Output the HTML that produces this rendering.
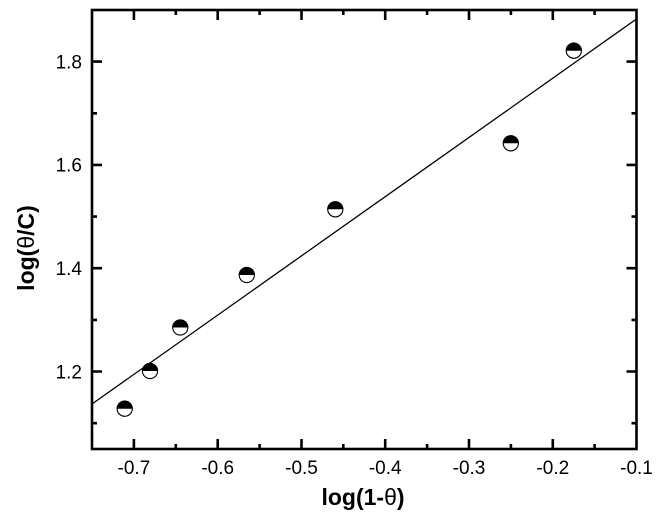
<!DOCTYPE html>
<html>
<head>
<meta charset="utf-8">
<style>
html,body{margin:0;padding:0;background:#fff;}
svg{display:block;}
text{font-family:"Liberation Sans",Arial,sans-serif;fill:#000;}
</style>
</head>
<body>
<svg width="658" height="528" viewBox="0 0 658 528" xmlns="http://www.w3.org/2000/svg">
<rect width="658" height="528" fill="#fff"/>
<!-- fit line -->
<line x1="92" y1="404" x2="636.5" y2="19" stroke="#000" stroke-width="1.3"/>
<!-- ticks -->
<g stroke="#000" stroke-width="2.6" fill="none">
  <path d="M133.9 449 v-10 M217.7 449 v-10 M301.5 449 v-10 M385.2 449 v-10 M469 449 v-10 M552.8 449 v-10"/>
  <path d="M175.8 449 v-5 M259.6 449 v-5 M343.3 449 v-5 M427.1 449 v-5 M510.9 449 v-5 M594.6 449 v-5"/>
  <path d="M133.9 10 v10 M217.7 10 v10 M301.5 10 v10 M385.2 10 v10 M469 10 v10 M552.8 10 v10"/>
  <path d="M175.8 10 v5 M259.6 10 v5 M343.3 10 v5 M427.1 10 v5 M510.9 10 v5 M594.6 10 v5"/>
  <path d="M92 61.6 h10 M92 164.9 h10 M92 268.2 h10 M92 371.5 h10"/>
  <path d="M92 113.3 h5 M92 216.6 h5 M92 319.9 h5 M92 423.2 h5"/>
  <path d="M636.5 61.6 h-10 M636.5 164.9 h-10 M636.5 268.2 h-10 M636.5 371.5 h-10"/>
  <path d="M636.5 113.3 h-5 M636.5 216.6 h-5 M636.5 319.9 h-5 M636.5 423.2 h-5"/>
  <rect x="92" y="10" width="544.5" height="439" stroke-width="2.6"/>
</g>
<!-- markers -->
<defs>
  <g id="m">
    <circle cx="0" cy="0" r="7.6" fill="#fff" stroke="#000" stroke-width="1.1"/>
    <path d="M-8.1 0 A8.1 8.1 0 0 1 8.1 0 Z" fill="#000"/>
  </g>
</defs>
<use href="#m" x="124.7" y="408.7"/>
<use href="#m" x="150" y="371"/>
<use href="#m" x="180.3" y="327.5"/>
<use href="#m" x="246.8" y="275"/>
<use href="#m" x="335.3" y="209.3"/>
<use href="#m" x="510.8" y="143.3"/>
<use href="#m" x="573.8" y="50.7"/>
<!-- y tick labels -->
<g font-size="19" text-anchor="end">
  <text x="82" y="68.4">1.8</text>
  <text x="82" y="171.7">1.6</text>
  <text x="82" y="275">1.4</text>
  <text x="82" y="378.3">1.2</text>
</g>
<!-- x tick labels -->
<g font-size="19" text-anchor="middle">
  <text x="133.9" y="474">-0.7</text>
  <text x="217.7" y="474">-0.6</text>
  <text x="301.5" y="474">-0.5</text>
  <text x="385.2" y="474">-0.4</text>
  <text x="469" y="474">-0.3</text>
  <text x="552.8" y="474">-0.2</text>
  <text x="636.5" y="474">-0.1</text>
</g>
<!-- axis labels -->
<text x="363" y="505" font-size="23" font-weight="bold" text-anchor="middle">log(1-<tspan font-weight="normal">θ</tspan>)</text>
<text transform="translate(34,248) rotate(-90)" font-size="23" font-weight="bold" text-anchor="middle">log(<tspan font-weight="normal">θ</tspan>/C)</text>
</svg>
</body>
</html>
